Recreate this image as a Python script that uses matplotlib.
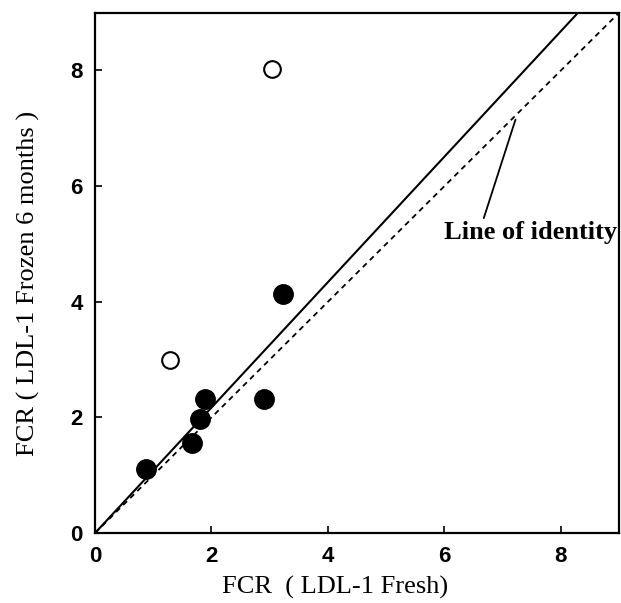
import matplotlib.pyplot as plt
import numpy as np

# values
fresh_filled = [0.88, 1.66, 1.80, 1.89, 2.90, 3.22]
frozen_filled = [1.10, 1.55, 1.98, 2.32, 2.32, 4.14]
fresh_open = [1.28, 3.04]
frozen_open = [3.00, 8.02]
fit_slope = 1.085
ticks = [0, 2, 4, 6, 8]

fig = plt.figure(figsize=(6.21, 6.03), dpi=100)
ax = fig.add_axes([0.153, 0.116, 0.844, 0.863])

# identity line (dashed) and fitted line (solid)
ax.plot([0, 9], [0, 9], color="black", lw=1.3, dashes=(3, 2.5))
fit_x = np.array([0, 9 / fit_slope])
ax.plot(fit_x, fit_slope * fit_x, color="black", lw=1.5)

ax.plot(fresh_filled, frozen_filled, "o", color="black", ms=14)
ax.plot(fresh_open, frozen_open, "o", mfc="white", mec="black", mew=1.5, ms=12)

ax.annotate(
    "Line of identity",
    xy=(7.22, 7.15), xytext=(6.0, 5.2),
    ha="left", va="center",
    fontsize=19, fontweight="bold", family="Liberation Serif",
    arrowprops=dict(arrowstyle="-", color="black", lw=1.3, shrinkA=0, shrinkB=0,
                    relpos=(0.22, 0.95)),
)

ax.set_xlim(0, 9)
ax.set_ylim(0, 9)
ax.set_xticks(ticks)
ax.set_yticks(ticks)
ax.tick_params(direction="in", length=5, width=1.2, pad=9)
for lbl in ax.get_xticklabels() + ax.get_yticklabels():
    lbl.set_fontsize(16)
    lbl.set_fontweight("bold")
    lbl.set_family("Liberation Sans")

for spine in ax.spines.values():
    spine.set_linewidth(1.6)

ax.set_xlabel("FCR  ( LDL-1 Fresh)", fontsize=19, family="Liberation Serif")
ax.xaxis.set_label_coords(0.458, -0.083)
ax.set_ylabel("FCR ( LDL-1 Frozen 6 months )", fontsize=19, family="Liberation Serif")
ax.yaxis.set_label_coords(-0.105, 0.479)

fig.savefig("out.png", dpi=100)
plt.close(fig)
